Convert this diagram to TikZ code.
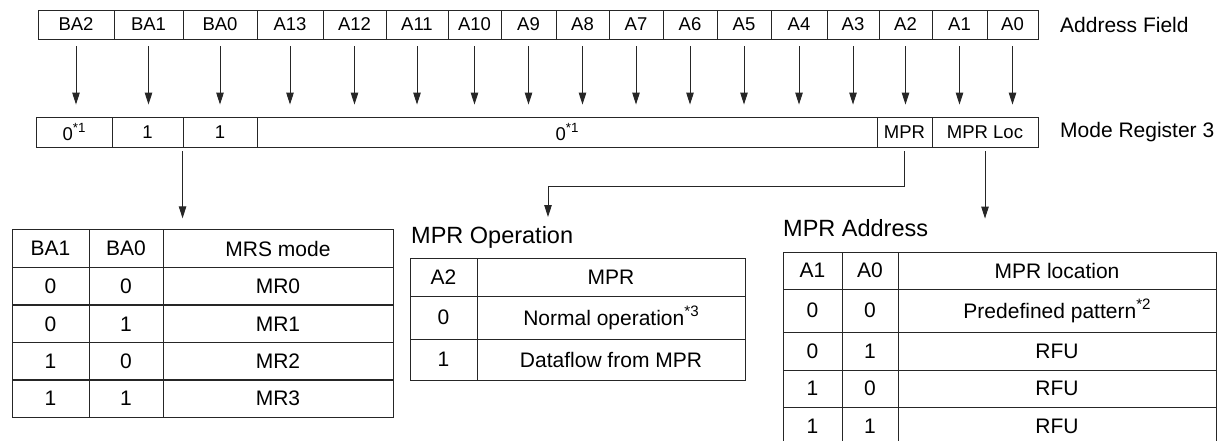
\documentclass[tikz,border=0pt]{standalone}
\usepackage{fontspec}
\setmainfont{Liberation Sans}
\usetikzlibrary{arrows.meta}
\colorlet{linec}{black!85}
\newcommand{\starnote}[1]{\raisebox{0.42em}{\scalebox{0.72}{#1}}}
\tikzstyle{regcell} = [
  draw=linec,
  line width=0.9pt,
  inner sep=0pt,
  font=\fontsize{18.5}{21}\selectfont,
]
\tikzstyle{tabcell} = [
  draw=linec,
  line width=0.9pt,
  inner sep=0pt,
  font=\fontsize{21}{24}\selectfont,
]
\tikzstyle{title} = [anchor=base west, inner sep=0pt, font=\fontsize{21}{24}\selectfont]
\tikzstyle{tabtitle} = [title, font=\fontsize{23.5}{26}\selectfont]
\tikzstyle{arr} = [draw=linec, line width=0.9pt, -{Triangle[length=12pt,width=7.5pt]}]

\begin{document}
\begin{tikzpicture}[x=1pt,y=-1pt]
      \useasboundingbox (0,0) rectangle (1220,440);

      % Address field
      \foreach \name/\l/\r in {BA2/38/114, BA1/114/183, BA0/183/257, A13/257/323,
          A12/323/386, A11/386/448, A10/448/501, A9/501/556, A8/556/609, A7/609/663,
          A6/663/717, A5/717/771, A4/771/827, A3/827/879, A2/879/932, A1/932/987, A0/987/1038}
        \node[regcell, minimum width={(\r-\l)*1pt}, minimum height=29pt] (af-\name) at ({(\l+\r)/2},24.5) {\name};
      \node[title, anchor=west] (af-title) at (1060,25) {Address Field};

      % Mode register 3
      \foreach \name/\l/\r/\txt in {ba2/36/112/{0\starnote{*1}}, ba1/112/183/1, ba0/183/257/1,
          zero/257/877/{0\starnote{*1}}, mpr/877/932/MPR, loc/932/1038/MPR Loc}
        \node[regcell, minimum width={(\r-\l)*1pt}, minimum height=30pt] (mr-\name) at ({(\l+\r)/2},132) {\txt};
      \node[title, anchor=west] (mr-title) at (1060,132) {Mode Register 3};

      % Bits down to the register
      \foreach \name in {BA2,BA1,BA0,A13,A12,A11,A10,A9,A8,A7,A6,A5,A4,A3,A2,A1,A0}
        \draw[arr, shorten <=7pt, shorten >=12pt] (af-\name.south) -- (af-\name.south |- mr-zero.north);

      % MRS mode table
      \foreach \y/\a/\b/\c [count=\i] in {248.5/BA1/BA0/MRS mode, 286/0/0/MR0, 324/0/1/MR1,
          361.5/1/0/MR2, 398.5/1/1/MR3} {
        \node[tabcell, minimum width=77pt, minimum height=37.5pt] (mrs-\i-a) at (50.5,\y) {\a};
        \node[tabcell, minimum width=74pt, minimum height=37.5pt] (mrs-\i-b) at (126,\y) {\b};
        \node[tabcell, minimum width=230pt, minimum height=37.5pt] (mrs-\i-c) at (278,\y) {\c};
      }

      % MPR operation table
      \node[tabtitle] (op-title) at (411,243) {MPR Operation};
      \foreach \y/\h/\a/\b [count=\i] in {277/38/A2/MPR, 317.5/43/0/{Normal operation\starnote{*3}},
          359.5/41/1/Dataflow from MPR} {
        \node[tabcell, minimum width=67pt, minimum height=\h pt] (op-\i-a) at (443.5,\y) {\a};
        \node[tabcell, minimum width=268pt, minimum height=\h pt] (op-\i-b) at (611,\y) {\b};
      }

      % MPR address table
      \node[tabtitle] (adr-title) at (783,236) {MPR Address};
      \foreach \y/\h/\a/\b/\c [count=\i] in {270.5/37/A1/A0/MPR location,
          310.5/43/0/0/{Predefined pattern\starnote{*2}}, 351/38/0/1/RFU,
          388.5/37/1/0/RFU, 426/38/1/1/RFU} {
        \node[tabcell, minimum width=59pt, minimum height=\h pt] (adr-\i-a) at (812.5,\y) {\a};
        \node[tabcell, minimum width=56pt, minimum height=\h pt] (adr-\i-b) at (870,\y) {\b};
        \node[tabcell, minimum width=318pt, minimum height=\h pt] (adr-\i-c) at (1057,\y) {\c};
      }

      % Register fields to the tables
      \coordinate (op-turn) at (548,186);
      \coordinate (op-in) at (548,217);
      \draw[arr, shorten <=4pt, shorten >=11pt] (mr-ba0.south west) -- (mr-ba0.south west |- mrs-1-c.north);
      \draw[arr, shorten <=4pt] (mr-mpr.south) |- (op-turn) -- (op-in);
      \draw[arr, shorten <=4pt, shorten >=33pt] (mr-loc.south) -- (mr-loc.south |- adr-1-c.north);
\end{tikzpicture}
\end{document}
